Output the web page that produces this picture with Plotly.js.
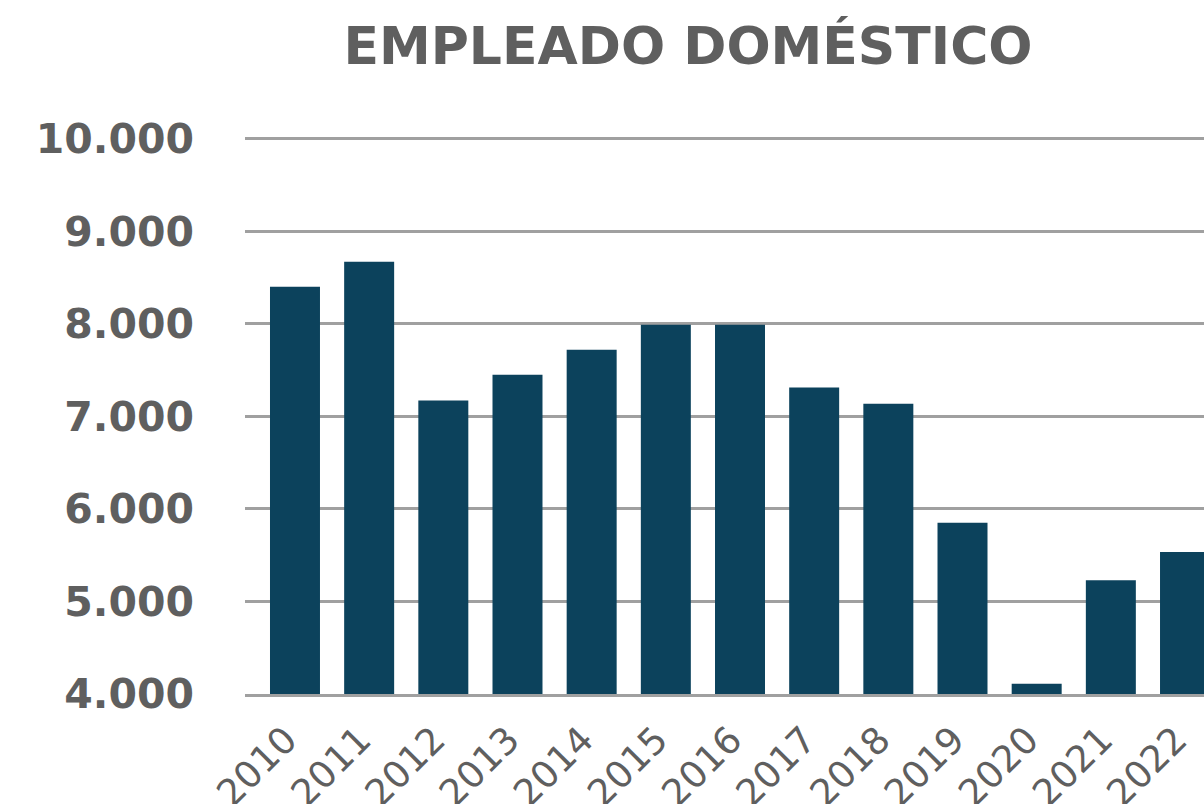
<!DOCTYPE html>
<html>
<head>
<meta charset="utf-8">
<script src="https://cdn.plot.ly/plotly-3.0.1.min.js"></script>
<style>html,body{margin:0;padding:0;background:#fff;}#chart{width:1204px;height:804px;}</style>
</head>
<body>
<div id="chart"></div>
<script>
const years = ["2010","2011","2012","2013","2014","2015","2016","2017","2018","2019","2020","2021","2022"];
const empleados = [8400, 8670, 7170, 7450, 7720, 7990, 7990, 7310, 7135, 5850, 4110, 5230, 5535];
const yTicks = [4000, 5000, 6000, 7000, 8000, 9000, 10000];
const yTickLabels = ["4.000", "5.000", "6.000", "7.000", "8.000", "9.000", "10.000"];
const chartTitle = "EMPLEADO DOMÉSTICO";

const grey = "#5f5f5f";
const trace = {
  type: "bar",
  x: years,
  y: empleados,
  width: 0.674,
  marker: {color: "#0C425C"},
  hoverinfo: "x+y"
};
const layout = {
  width: 1204,
  height: 804,
  margin: {l: 245, r: 0, t: 134, b: 110, pad: 0},
  paper_bgcolor: "#ffffff",
  plot_bgcolor: "#ffffff",
  showlegend: false,
  title: {
    text: chartTitle,
    font: {family: "DejaVu Sans", size: 52, color: grey, weight: "bold"},
    x: 688/1204, xref: "container", xanchor: "center",
    y: 1 - 46/804, yref: "container", yanchor: "middle"
  },
  xaxis: {
    type: "category",
    range: [-0.674, 12.256],
    tickangle: -45,
    tickfont: {family: "DejaVu Sans", size: 37, color: grey},
    showgrid: false,
    showline: true,
    linecolor: "#a0a0a0",
    linewidth: 3,
    ticks: "",
    ticklabelstandoff: 6,
    ticklabelshift: -9,
    layer: "below traces",
    fixedrange: true
  },
  yaxis: {
    range: [4000, 10050],
    tickvals: yTicks,
    ticktext: yTickLabels,
    tickfont: {family: "DejaVu Sans", size: 41, color: grey, weight: "bold"},
    showgrid: true,
    gridcolor: "#a0a0a0",
    gridwidth: 3,
    zeroline: false,
    showline: false,
    ticks: "",
    ticklabelstandoff: 50,
    fixedrange: true
  }
};
Plotly.newPlot("chart", [trace], layout, {displayModeBar: false, staticPlot: true});
</script>
</body>
</html>
